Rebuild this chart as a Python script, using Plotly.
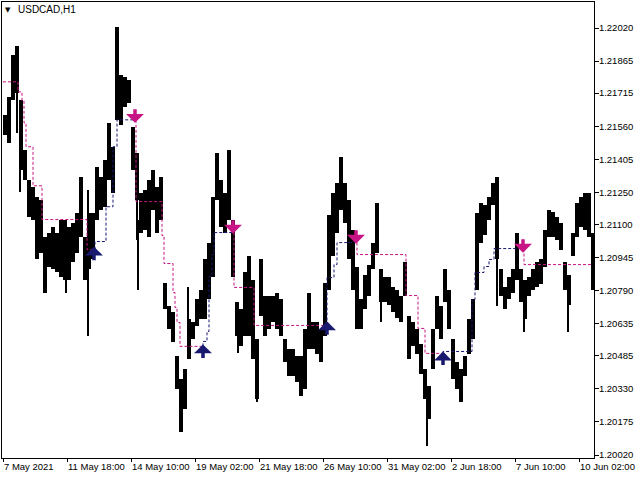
import plotly.graph_objects as go

# ---- data ----
symbol = "USDCAD,H1"
group_hours = 4  # each block = high/low of 4 consecutive H1 bars, starting at bar 0

group_high = [1.21613, 1.21698, 1.21894, 1.21936, 1.21684, 1.21450, 1.21310, 1.21277, 1.21230, 1.21216,
              1.21043, 1.21062, 1.21090, 1.21062, 1.21123, 1.21123, 1.21090, 1.21109, 1.21155, 1.21324,
              1.21043, 1.21155, 1.21155, 1.21370, 1.21324, 1.21403, 1.21576, 1.21464, 1.22025, 1.21800,
              1.21791, 1.21777, 1.21557, 1.21436, 1.21249, 1.21263, 1.21310, 1.21356, 1.21277, 1.21324,
              1.20828, 1.20716, 1.20688, 1.20482, 1.20375, 1.20421, 1.20655, 1.20641, 1.20749, 1.20795,
              1.20936, 1.21015, 1.21230, 1.21436, 1.21310, 1.21249, 1.21450, 1.21123, 1.20735, 1.20702,
              1.20875, 1.20950, 1.20842, 1.20562, 1.20936, 1.20763, 1.20763, 1.20763, 1.20781, 1.20749,
              1.20562, 1.20515, 1.20515, 1.20482, 1.20482, 1.20608, 1.20781, 1.20641, 1.20641, 1.20608,
              1.20828, 1.21146, 1.21249, 1.21296, 1.21417, 1.21296, 1.21216, 1.21076, 1.20903, 1.20749,
              1.20865, 1.20912, 1.21015, 1.21202, 1.20889, 1.20856, 1.20856, 1.20809, 1.20795, 1.20763,
              1.20922, 1.20669, 1.20641, 1.20608, 1.20538, 1.20421, 1.20342, 1.20608, 1.20763, 1.20716,
              1.20889, 1.20795, 1.20562, 1.20454, 1.20421, 1.20482, 1.20655, 1.20749, 1.21155, 1.21202,
              1.21193, 1.21230, 1.21296, 1.21324, 1.20889, 1.20809, 1.20856, 1.20889, 1.21062, 1.20889,
              1.20842, 1.20856, 1.20889, 1.20922, 1.20936, 1.21076, 1.21169, 1.21160, 1.21137, 1.21109,
              1.20922, 1.20865, 1.21062, 1.21202, 1.21230, 1.21249, 1.21249, 1.21062]

group_low = [1.21520, 1.21483, 1.21684, 1.21716, 1.21356, 1.21310, 1.21137, 1.21123, 1.20936, 1.20968,
             1.20781, 1.20903, 1.20889, 1.20875, 1.20856, 1.20842, 1.20842, 1.20922, 1.20968, 1.21043,
             1.20842, 1.20889, 1.20936, 1.21123, 1.21169, 1.21183, 1.21310, 1.21249, 1.21590, 1.21567,
             1.21651, 1.21670, 1.21356, 1.21216, 1.21062, 1.21076, 1.21043, 1.21169, 1.21062, 1.21123,
             1.20702, 1.20608, 1.20548, 1.20328, 1.20127, 1.20234, 1.20468, 1.20562, 1.20622, 1.20655,
             1.20655, 1.20749, 1.20856, 1.21216, 1.21090, 1.21062, 1.21123, 1.20856, 1.20576, 1.20529,
             1.20576, 1.20576, 1.20468, 1.20281, 1.20669, 1.20576, 1.20608, 1.20641, 1.20608, 1.20576,
             1.20454, 1.20389, 1.20389, 1.20361, 1.20295, 1.20328, 1.20515, 1.20515, 1.20491, 1.20454,
             1.20576, 1.20795, 1.20950, 1.21062, 1.21169, 1.21109, 1.20936, 1.20795, 1.20608, 1.20608,
             1.20702, 1.20763, 1.20889, 1.20968, 1.20735, 1.20735, 1.20725, 1.20688, 1.20664, 1.20641,
             1.20763, 1.20468, 1.20529, 1.20491, 1.20398, 1.20281, 1.20188, 1.20421, 1.20608, 1.20562,
             1.20735, 1.20608, 1.20375, 1.20328, 1.20267, 1.20389, 1.20491, 1.20562, 1.20795, 1.21015,
             1.21052, 1.21123, 1.21193, 1.20936, 1.20763, 1.20702, 1.20749, 1.20781, 1.20842, 1.20735,
             1.20655, 1.20763, 1.20795, 1.20809, 1.20819, 1.20903, 1.21043, 1.21043, 1.21029, 1.20982,
             1.20795, 1.20725, 1.20950, 1.21043, 1.21090, 1.21076, 1.21043, 1.20795]

# single-bar spikes (bar index, high, low)
spike_idx = [14, 17, 63, 85, 134, 135, 185, 235, 254, 378, 424, 494, 521, 565]
spike_high = [1.21871, 1.21590, 1.21029, 1.21263, 1.21216, 1.21123, 1.20809, 1.20655, 1.20515,
              1.20842, 1.20281, 1.20982, 1.20795, 1.20795]
spike_low = [1.21529, 1.21253, 1.20781, 1.20576, 1.21029, 1.20795, 1.20608, 1.20500, 1.20267,
             1.20641, 1.20061, 1.20716, 1.20594, 1.20594]

# signal line: bar index where each level starts, level, trend
sig_start = [0, 15, 19, 21, 23, 30, 39, 84,
             92, 103, 110, 114,
             133, 159, 161, 170, 172, 174, 177,
             200, 204, 206, 209, 211,
             231, 251,
             324, 331, 334,
             354, 403, 415, 422,
             440, 469, 472, 481, 486, 491,
             521]
sig_level = [1.21768, 1.21721, 1.21679, 1.21576, 1.21464, 1.21281, 1.21123, 1.20982,
             1.21020, 1.21183, 1.21464, 1.21590,
             1.21207, 1.21048, 1.20917, 1.20781, 1.20711, 1.20641, 1.20529,
             1.20552, 1.20599, 1.20856, 1.20959, 1.21062,
             1.20805, 1.20627,
             1.20851, 1.20912, 1.21015,
             1.20959, 1.20767, 1.20613, 1.20496,
             1.20505, 1.20749, 1.20875, 1.20903, 1.20936, 1.20987,
             1.20912]
sig_trend = (["dn"] * 8 + ["up"] * 4 + ["dn"] * 7 + ["up"] * 5 + ["dn"] * 2 +
             ["up"] * 3 + ["dn"] * 4 + ["up"] * 6 + ["dn"] * 1)
last_bar = 589

up_arrow_idx = [91, 200, 324, 440]
up_arrow_price = [1.20996, 1.20538, 1.20646, 1.20505]
dn_arrow_idx = [132, 230, 353, 520]
dn_arrow_price = [1.21576, 1.21057, 1.21010, 1.20968]

x_tick_idx = [0, 64, 128, 192, 256, 320, 384, 448, 512, 576]
x_tick_text = ["7 May 2021", "11 May 18:00", "14 May 10:00", "19 May 02:00", "21 May 18:00",
               "26 May 10:00", "31 May 02:00", "2 Jun 18:00", "7 Jun 10:00", "10 Jun 02:00"]
y_tick_text = ["1.22020", "1.21865", "1.21715", "1.21560", "1.21405", "1.21250", "1.21100",
               "1.20945", "1.20790", "1.20635", "1.20485", "1.20330", "1.20175", "1.20020"]

MAG = "#C71585"
NAVY = "#191970"
FONT = "Liberation Sans"

fig = go.Figure()

# price blocks
gx = [g * group_hours + (group_hours - 1) / 2 for g in range(len(group_high))]
fig.add_trace(go.Bar(x=gx, base=group_low,
                     y=[h - l for h, l in zip(group_high, group_low)],
                     width=group_hours, marker=dict(color="black", line=dict(width=0)),
                     hoverinfo="skip", showlegend=False))
fig.add_trace(go.Bar(x=spike_idx, base=spike_low,
                     y=[h - l for h, l in zip(spike_high, spike_low)],
                     width=1.2, marker=dict(color="black", line=dict(width=0)),
                     hoverinfo="skip", showlegend=False))

# signal line segments
segs = []
cur = None
for k in range(len(sig_start)):
    if cur is None or sig_trend[k] != cur["trend"]:
        cur = {"trend": sig_trend[k], "ks": []}
        segs.append(cur)
    cur["ks"].append(k)
for si, seg in enumerate(segs):
    ks = seg["ks"]
    xs, ys = [], []
    if ks[0] > 0:
        xs.append(sig_start[ks[0]])
        ys.append(sig_level[ks[0] - 1])
    for k in ks:
        xs.append(sig_start[k])
        ys.append(sig_level[k])
    end = sig_start[ks[-1] + 1] if ks[-1] + 1 < len(sig_start) else last_bar
    xs.append(end)
    ys.append(sig_level[ks[-1]])
    fig.add_trace(go.Scatter(x=xs, y=ys, mode="lines", line_shape="hv",
                             line=dict(color=MAG if seg["trend"] == "dn" else NAVY,
                                       width=1, dash="3px,2px"),
                             hoverinfo="skip", showlegend=False))

annos = []
for i, p in zip(up_arrow_idx, up_arrow_price):
    annos.append(dict(x=i, y=p, xref="x", yref="y", text="", showarrow=True, ax=0, ay=15,
                      arrowhead=1, arrowsize=0.85, arrowwidth=3.5, arrowcolor=NAVY, standoff=0))
for i, p in zip(dn_arrow_idx, dn_arrow_price):
    annos.append(dict(x=i, y=p, xref="x", yref="y", text="", showarrow=True, ax=0, ay=-15,
                      arrowhead=1, arrowsize=0.85, arrowwidth=3.5, arrowcolor=MAG, standoff=0))

annos.append(dict(x=0.002, y=0.995, xref="paper", yref="paper", xanchor="left", yanchor="top",
                  text="▼", showarrow=False, font=dict(family="DejaVu Sans", size=7, color="black")))
annos.append(dict(x=0.023, y=0.999, xref="paper", yref="paper", xanchor="left", yanchor="top",
                  text=symbol, showarrow=False, font=dict(family=FONT, size=10, color="black")))

fig.update_layout(
    width=640, height=480,
    margin=dict(l=2, r=46, t=2, b=22, autoexpand=False),
    paper_bgcolor="white", plot_bgcolor="white",
    barmode="overlay", bargap=0,
    showlegend=False,
    annotations=annos,
    font=dict(family=FONT, size=9.5, color="black"),
)
fig.update_xaxes(range=[-1, 591], showgrid=False, zeroline=False, automargin=False,
                 showline=True, mirror=True, linecolor="black", linewidth=1,
                 tickmode="array", tickvals=x_tick_idx, ticktext=x_tick_text,
                 ticks="outside", ticklen=3, tickcolor="black", tickwidth=1,
                 tickangle=0, ticklabelposition="outside right",
                 tickfont=dict(family=FONT, size=9.5, color="black"))
fig.update_yaxes(range=[1.20006, 1.22142], side="right", showgrid=False, zeroline=False,
                 automargin=False,
                 showline=True, mirror=True, linecolor="black", linewidth=1,
                 tickmode="array", tickvals=[float(t) for t in y_tick_text], ticktext=y_tick_text,
                 ticks="outside", ticklen=4, tickcolor="black", tickwidth=1,
                 ticklabelstandoff=-2,
                 tickfont=dict(family=FONT, size=9.5, color="black"))

fig.write_html("out.html", config={"displayModeBar": False},
               post_script="document.body.style.margin='0';document.body.style.padding='0';")
